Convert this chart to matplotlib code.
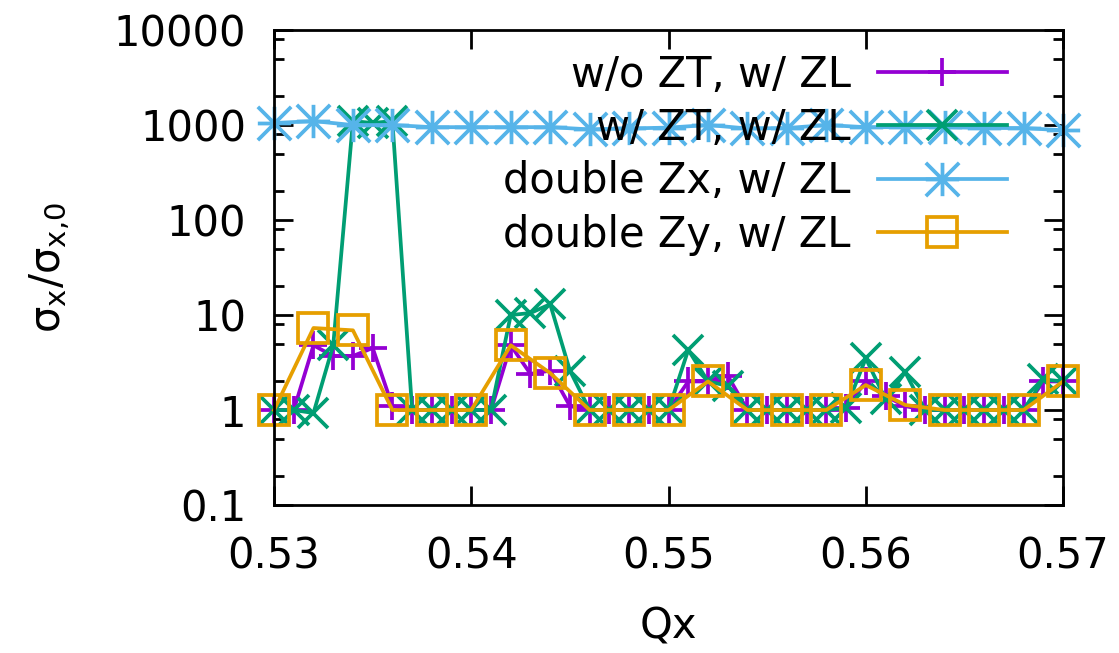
#! /usr/bin/env python

'''
beam size growth sigma_x/sigma_x0 versus horizontal tune for the
four impedance configurations, log scale, gnuplot-like styling.
'''

import matplotlib
matplotlib.use('agg')
import matplotlib.pyplot as plt
from matplotlib.path import Path
from matplotlib.ticker import FixedLocator, FixedFormatter, NullFormatter

# tune scan: fine steps for the ZT runs, coarse steps for the doubled impedance runs
qx_fine = [0.530, 0.531, 0.532, 0.533, 0.534, 0.535, 0.536, 0.537, 0.538, 0.539,
           0.540, 0.541, 0.542, 0.543, 0.544, 0.545, 0.546, 0.547, 0.548, 0.549,
           0.550, 0.551, 0.552, 0.553, 0.554, 0.555, 0.556, 0.557, 0.558, 0.559,
           0.560, 0.561, 0.562, 0.563, 0.564, 0.565, 0.566, 0.567, 0.568, 0.569,
           0.570]
qx_coarse = [0.530, 0.532, 0.534, 0.536, 0.538, 0.540, 0.542, 0.544, 0.546, 0.548,
             0.550, 0.552, 0.554, 0.556, 0.558, 0.560, 0.562, 0.564, 0.566, 0.568,
             0.570]

noZT_ZL = [1.0, 1.0, 4.8, 3.7, 3.7, 4.5, 1.1, 1.0, 1.0, 1.0,
           1.0, 1.0, 4.8, 2.4, 2.6, 1.1, 1.0, 1.0, 1.0, 1.0,
           1.0, 2.0, 2.0, 2.3, 1.0, 1.0, 1.0, 1.0, 1.0, 1.05,
           2.0, 1.4, 1.1, 1.0, 1.0, 1.0, 1.0, 1.0, 1.0, 2.0,
           2.0]
ZT_ZL = [1.0, 1.0, 0.93, 4.8, 1100.0, 1050.0, 1100.0, 1.0, 1.0, 1.0,
         1.0, 1.0, 10.0, 10.5, 13.0, 2.6, 1.0, 1.0, 1.0, 1.0,
         1.0, 4.3, 2.0, 1.8, 1.0, 1.0, 1.0, 1.0, 1.0, 1.05,
         3.5, 1.3, 2.5, 1.0, 1.0, 1.0, 1.0, 1.0, 1.0, 2.1,
         2.0]
dblZx_ZL = [1050.0, 1100.0, 1000.0, 1000.0, 950.0, 950.0, 950.0, 950.0, 900.0, 920.0,
            940.0, 1000.0, 920.0, 930.0, 1000.0, 950.0, 950.0, 950.0, 930.0, 930.0,
            880.0]
dblZy_ZL = [1.0, 7.3, 6.9, 1.0, 1.0, 1.0, 4.8, 2.45, 1.0, 1.0,
            1.0, 2.0, 1.0, 1.0, 1.0, 1.83, 1.13, 1.0, 1.0, 1.0,
            2.0]

labels = ['w/o ZT, w/ ZL', 'w/ ZT, w/ ZL', 'double Zx, w/ ZL', 'double Zy, w/ ZL']
colors = ['#9400d3', '#009e73', '#56b4e9', '#e69f00']

# gnuplot style asterisk: plus and cross on top of each other
asterisk = Path([(-1, 0), (1, 0), (0, -1), (0, 1), (-1, -1), (1, 1), (-1, 1), (1, -1)],
                [Path.MOVETO, Path.LINETO] * 4)

plt.rcParams['font.family'] = 'DejaVu Sans'
plt.rcParams['mathtext.default'] = 'regular'

fig = plt.figure(figsize=(11.19, 6.53), dpi=100)
ax = fig.add_axes([0.2449, 0.2266, 0.7051, 0.7274])

lw = 2.7
ax.plot(qx_fine, noZT_ZL, color=colors[0], lw=lw, marker='+', ms=19.5, mew=lw,
        label=labels[0], clip_on=False)
ax.plot(qx_fine, ZT_ZL, color=colors[1], lw=lw, marker='x', ms=21, mew=lw,
        label=labels[1], clip_on=False)
ax.plot(qx_coarse, dblZx_ZL, color=colors[2], lw=lw, marker=asterisk, ms=24, mew=lw,
        label=labels[2], clip_on=False)
ax.plot(qx_coarse, dblZy_ZL, color=colors[3], lw=lw, marker='s', ms=22, mew=lw,
        mfc='none', label=labels[3], clip_on=False)

ax.set_yscale('log')
ax.set_xlim(0.53, 0.57)
ax.set_ylim(0.1, 10000)

ax.xaxis.set_major_locator(FixedLocator([0.53, 0.54, 0.55, 0.56, 0.57]))
ax.xaxis.set_major_formatter(FixedFormatter(['0.53', '0.54', '0.55', '0.56', '0.57']))
ax.yaxis.set_major_locator(FixedLocator([0.1, 1, 10, 100, 1000, 10000]))
ax.yaxis.set_major_formatter(FixedFormatter(['0.1', '1', '10', '100', '1000', '10000']))
ax.yaxis.set_minor_locator(FixedLocator([m * 10.0 ** e for e in range(-1, 4)
                                         for m in (2, 5, 8)]))
ax.yaxis.set_minor_formatter(NullFormatter())

ax.tick_params(which='both', direction='in', top=True, right=True, labelsize=30,
               width=2)
ax.tick_params(axis='y', pad=20)
ax.tick_params(axis='x', pad=22)
ax.tick_params(which='major', length=14)
ax.tick_params(which='minor', length=7)
for sp in ax.spines.values():
    sp.set_linewidth(2)

ax.set_xlabel('Qx', fontsize=30, labelpad=20)
ax.set_ylabel(r'$\sigma_x/\sigma_{x{,}0}$', fontsize=30, labelpad=30)

leg = ax.legend(loc='upper right', bbox_to_anchor=(0.929, 0.95), markerfirst=False,
                frameon=False, fontsize=30, handlelength=3.1, handletextpad=0.65,
                labelspacing=0.27, borderpad=0, borderaxespad=0)

fig.savefig('out.png', dpi=100)
